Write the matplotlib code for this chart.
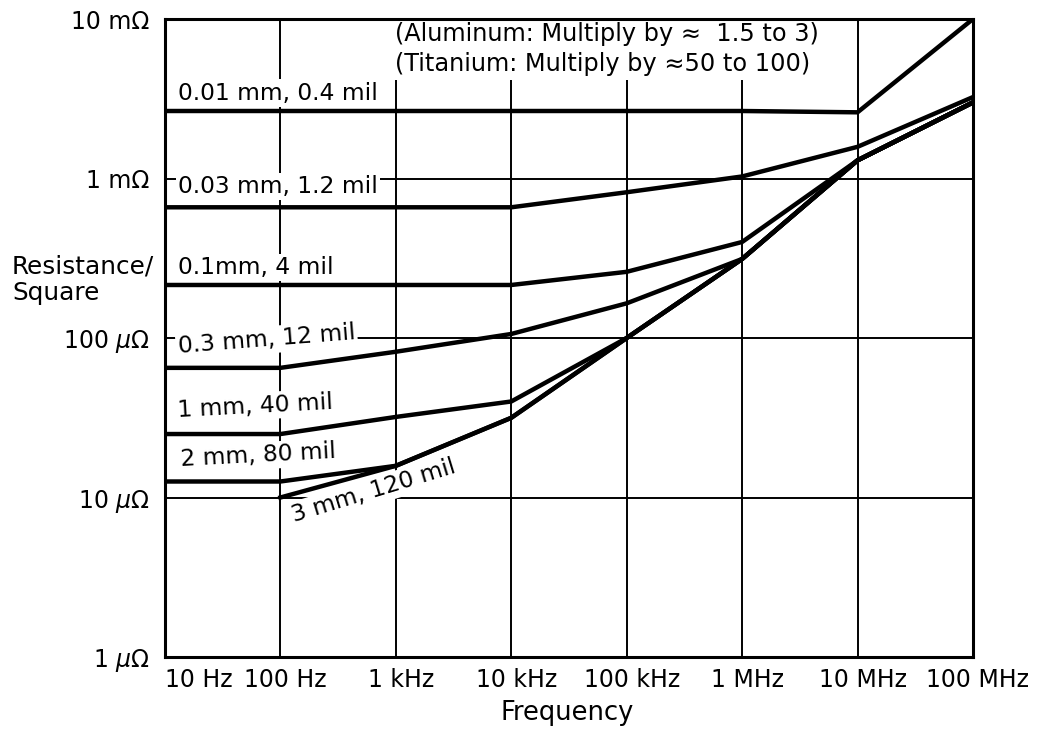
import numpy as np
import matplotlib.pyplot as plt
from matplotlib.transforms import ScaledTranslation

plt.rcParams['font.family'] = ['DejaVu Sans']
plt.rcParams['mathtext.fontset'] = 'dejavusans'

# frequency points (Hz), one per decade
freq = [10, 100, 1e3, 1e4, 1e5, 1e6, 1e7, 1e8]
freq_labels = ['10 Hz', '100 Hz', '1 kHz', '10 kHz', '100 kHz', '1 MHz', '10 MHz', '100 MHz']

# resistance per square (ohm) for each copper thickness
r_001mm = [2.65e-3, 2.65e-3, 2.65e-3, 2.65e-3, 2.65e-3, 2.65e-3, 2.6e-3, 10e-3]
r_003mm = [0.66e-3, 0.66e-3, 0.66e-3, 0.66e-3, 0.82e-3, 1.03e-3, 1.58e-3, 3.24e-3]
r_01mm = [215e-6, 215e-6, 215e-6, 215e-6, 260e-6, 400e-6, 1.3e-3, 3.0e-3]
r_03mm = [65e-6, 65e-6, 82e-6, 106e-6, 165e-6, 313e-6, 1.3e-3, 3.0e-3]
r_1mm = [25e-6, 25e-6, 32e-6, 40e-6, 100e-6, 313e-6, 1.3e-3, 3.0e-3]
r_2mm = [12.6e-6, 12.6e-6, 15.8e-6, 31.6e-6, 100e-6, 313e-6, 1.3e-3, 3.0e-3]
r_3mm = [np.nan, 10e-6, 15.8e-6, 31.6e-6, 100e-6, 313e-6, 1.3e-3, 3.0e-3]

series = [r_001mm, r_003mm, r_01mm, r_03mm, r_1mm, r_2mm, r_3mm]
series_labels = ['0.01 mm, 0.4 mil', '0.03 mm, 1.2 mil', '0.1mm, 4 mil', '0.3 mm, 12 mil',
                 '1 mm, 40 mil', '2 mm, 80 mil', '3 mm, 120 mil']

y_ticks = [1e-6, 1e-5, 1e-4, 1e-3, 1e-2]
y_labels = [r'1 $\mu\Omega$', r'10 $\mu\Omega$', r'100 $\mu\Omega$', '1 mΩ', '10 mΩ']

note = '(Aluminum: Multiply by ≈  1.5 to 3)\n(Titanium: Multiply by ≈50 to 100)'

fig = plt.figure(figsize=(10.63, 7.34), dpi=100)
ax = fig.add_axes([0.1552, 0.1049, 0.7601, 0.8692])

for r in series:
    ax.plot(freq, r, color='black', lw=3.2, solid_joinstyle='round', zorder=3)

ax.set_xscale('log')
ax.set_yscale('log')
ax.set_xlim(10, 1e8)
ax.set_ylim(1e-6, 1e-2)
ax.set_xticks(freq)
ax.set_xticklabels(freq_labels)
ax.set_yticks(y_ticks)
ax.set_yticklabels(y_labels)
ax.minorticks_off()
ax.tick_params(length=0, labelsize=17, colors='black')
ax.tick_params(axis='x', pad=8)
ax.tick_params(axis='y', pad=11)
shift = ScaledTranslation(5 / 100, 0, fig.dpi_scale_trans)
for i, lab in enumerate(ax.get_xticklabels()):
    if i == 0:
        lab.set_horizontalalignment('left')
    else:
        lab.set_transform(lab.get_transform() + shift)
for s in ax.spines.values():
    s.set_linewidth(2.2)
ax.set_axisbelow(True)
ax.grid(True, color='black', lw=1.4)

box = dict(facecolor='white', edgecolor='none', pad=1.5)
# curve labels: (x frac, y frac, rotation)
label_pos = [(0.016, 0.884, 0), (0.016, 0.737, 0), (0.016, 0.611, 0), (0.016, 0.486, 4.5),
             (0.016, 0.387, 3), (0.019, 0.309, 3), (0.158, 0.221, 17)]
for txt, (lx, ly, rot) in zip(series_labels, label_pos):
    ax.text(lx, ly, txt, transform=ax.transAxes, fontsize=16.8, ha='left', va='center',
            rotation=rot, rotation_mode='anchor', bbox=box, zorder=2)

ax.text(0.285, 0.953, note, transform=ax.transAxes, fontsize=17.3, ha='left', va='center',
        linespacing=1.27, bbox=dict(facecolor='white', edgecolor='none', pad=3), zorder=2)

fig.text(0.0113, 0.6185, 'Resistance/\nSquare', fontsize=17.8, ha='left', va='center',
         linespacing=1.12)
fig.text(0.534, 0.0286, 'Frequency', fontsize=18.5, ha='center', va='center')

fig.savefig('out.png', dpi=100)
